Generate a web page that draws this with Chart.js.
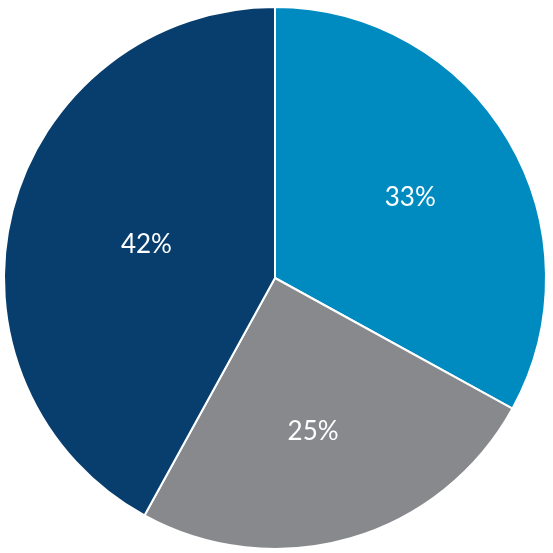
<!DOCTYPE html>
<html>
<head>
<meta charset="utf-8">
<script src="https://cdn.jsdelivr.net/npm/chart.js@4"></script>
<style>
  html, body { margin: 0; padding: 0; background: #fff; font-family: Lato, sans-serif; }
  #wrap { width: 553px; height: 553px; }
</style>
</head>
<body>
<div id="wrap"><canvas id="pieChart" width="553" height="553"></canvas></div>
<script>
const labels = ["A", "B", "C"];
const values = [33, 25, 42];
const colors = ["#008bc0", "#87898c", "#073e6e"];

// where each label sits, as a share of the radius
const labelRadius = [0.58, 0.585, 0.49];

const pctLabels = {
  id: "pctLabels",
  afterDatasetsDraw(chart) {
    const ctx = chart.ctx;
    const meta = chart.getDatasetMeta(0);
    ctx.save();
    ctx.fillStyle = "#ffffff";
    ctx.font = "26px Lato";
    ctx.textAlign = "center";
    ctx.textBaseline = "middle";
    meta.data.forEach((arc, i) => {
      const mid = (arc.startAngle + arc.endAngle) / 2 + (i === 1 ? 0.04 : 0);
      const r = arc.outerRadius * labelRadius[i];
      const x = arc.x + Math.cos(mid) * r;
      const y = arc.y + Math.sin(mid) * r;
      ctx.fillText(values[i] + "%", x, y);
    });
    ctx.restore();
  }
};

function drawChart() {
  new Chart(document.getElementById("pieChart"), {
    type: "pie",
    data: {
      labels: labels,
      datasets: [{
        data: values,
        backgroundColor: colors,
        borderColor: "#ffffff",
        borderWidth: 2
      }]
    },
    options: {
      responsive: false,
      animation: false,
      layout: { padding: { top: 6, bottom: 3, left: 3, right: 6 } },
      plugins: {
        legend: { display: false },
        tooltip: { enabled: false }
      }
    },
    plugins: [pctLabels]
  });
}

document.fonts.load("26px Lato").then(drawChart, drawChart);
</script>
</body>
</html>
